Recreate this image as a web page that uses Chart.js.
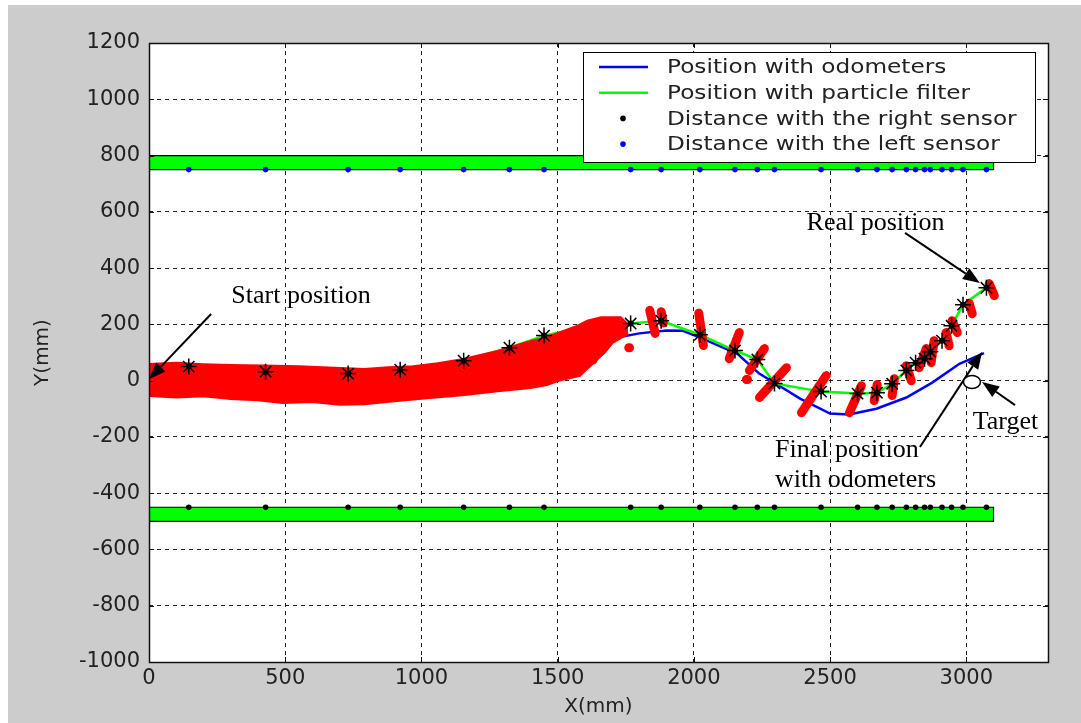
<!DOCTYPE html>
<html>
<head>
<meta charset="utf-8">
<script src="https://cdn.jsdelivr.net/npm/chart.js@4.4.1/dist/chart.umd.min.js"></script>
<style>
  html, body { margin: 0; padding: 0; background: #fff; }
  canvas { display: block; }
</style>
</head>
<body>
<canvas id="chart" width="1081" height="723"></canvas>
<script>
// ── Data (mm) ───────────────────────────────────────────────────────────────

const xTickValues = [0, 500, 1000, 1500, 2000, 2500, 3000];

const sensorX = [146, 428, 731, 922, 1155, 1323, 1450, 1768, 1880, 2022, 2151, 2233, 2296,
    2467, 2601, 2672, 2728, 2780, 2814, 2847, 2868, 2911, 2946, 2988, 3074];
const leftSensorY = [750, 750, 750, 750, 750, 750, 750, 750, 750, 750, 750, 750, 750,
    750, 750, 750, 750, 750, 750, 750, 750, 750, 750, 750, 750];
const rightSensorY = [-450, -450, -450, -450, -450, -450, -450, -450, -450, -450, -450, -450, -450,
    -450, -450, -450, -450, -450, -450, -450, -450, -450, -450, -450, -450];
const estimateY = [50, 32, 25, 39, 71, 117, 160, 203, 213, 163, 107, 75, -10,
    -39, -46, -43, -11, 36, 64, 78, 103, 142, 195, 270, 330];

const filterX = [0, 146, 428, 731, 922, 1155, 1323, 1450, 1600, 1768, 1880, 2022, 2151, 2233,
    2296, 2467, 2601, 2672, 2728, 2780, 2814, 2847, 2868, 2911, 2946, 2988, 3074];
const filterY = [40, 50, 32, 25, 39, 71, 117, 160, 190, 203, 213, 163, 107, 75,
    -10, -39, -46, -43, -11, 36, 64, 78, 103, 142, 195, 270, 330];

const odoX = [0, 300, 600, 900, 1150, 1350, 1500, 1570, 1700, 1800, 1900, 1960, 2030, 2160,
    2240, 2300, 2390, 2500, 2570, 2670, 2780, 2875, 2975, 3065];
const odoY = [0, 2, 5, 15, 40, 75, 100, 110, 150, 168, 178, 177, 150, 95,
    25, -10, -64, -117, -120, -100, -60, -7, 60, 98];

// particle cloud envelope, start to ~1750 mm
const cloudTopX = [0, 100, 200, 300, 420, 550, 680, 790, 880, 970, 1060, 1150, 1280, 1400,
    1460, 1520, 1570, 1610, 1660, 1730, 1758];
const cloudTopY = [56, 60, 55, 52, 50, 48, 42, 38, 44, 48, 58, 73, 102, 137,
    150, 172, 190, 210, 222, 222, 195];
const cloudBottomX = [0, 100, 200, 300, 400, 490, 600, 700, 790, 900, 1030, 1150, 1280, 1400,
    1460, 1510, 1580, 1630, 1670, 1700, 1758];
const cloudBottomY = [-51, -56, -52, -62, -66, -76, -72, -82, -80, -70, -58, -48, -34, -23,
    -12, 5, 20, 66, 102, 137, 170];

// particle clusters later on: [x1, y1, x2, y2]
const particleClusters = [
    [1838, 250, 1858, 168], [1880, 245, 1888, 205], [2018, 240, 2035, 125],
    [2167, 171, 2130, 78], [2259, 114, 2204, 36], [2340, 46, 2241, -60],
    [2193, 4, 2197, 4], [1761, 117, 1764, 117], [1630, 73, 1633, 73],
    [2486, 18, 2395, -114], [2615, -18, 2571, -114], [2673, -14, 2662, -71],
    [2736, 7, 2728, -53], [2780, 53, 2798, 0], [2853, 114, 2827, 46],
    [2882, 142, 2871, 64], [2926, 171, 2937, 124], [2948, 213, 2967, 171],
    [3011, 274, 3022, 238], [3084, 345, 3103, 302],
];

const wallX = [0, 3100];
const topWallY = [750, 800];
const bottomWallY = [-500, -450];

const legendLabels = [
    'Position with odometers',
    'Position with particle filter',
    'Distance with the right sensor',
    'Distance with the left sensor',
];

// annotations in data coordinates
const notes = [
    { text: 'Start position', x: 558, y: 300, align: 'center' },
    { text: 'Real position', x: 2667, y: 560, align: 'center' },
    { text: 'Target', x: 3144, y: -147, align: 'center' },
    { text: 'Final position', x: 2298, y: -246, align: 'left' },
    { text: 'with odometers', x: 2298, y: -353, align: 'left' },
];
const arrows = [
    [228, 237, 0, 5],
    [2775, 525, 3050, 347],
    [3179, -87, 3058, -5],
    [2830, -236, 3058, 102],
];
const target = { x: 3021, y: -5 };

// ── Helpers ──────────────────────────────────────────────────────────────────

const toPts = (xs, ys) => xs.map((x, i) => ({ x, y: ys[i] }));

function clusterPts(list) {
    const pts = [];
    list.forEach(([x1, y1, x2, y2]) => {
        pts.push({ x: x1, y: y1 }, { x: x2, y: y2 }, { x: x2, y: null });
    });
    return pts;
}

function wallOutline(ys) {
    return [
        { x: wallX[0], y: ys[1] }, { x: wallX[1], y: ys[1] },
        { x: wallX[1], y: ys[0] }, { x: wallX[0], y: ys[0] }, { x: wallX[0], y: ys[1] },
    ];
}

const SANS = '"DejaVu Sans", Verdana, sans-serif';
const SERIF = '"Liberation Serif", "Times New Roman", serif';
const TEXT = '#222';

const base = { showLine: true, pointRadius: 0, fill: false, tension: 0 };

// ── Plugins ──────────────────────────────────────────────────────────────────

const framePlugin = {
    id: 'frame',
    beforeDraw(chart) {
        const { ctx, chartArea: a } = chart;
        ctx.save();
        ctx.fillStyle = '#fff';
        ctx.fillRect(0, 0, chart.width, chart.height);
        ctx.fillStyle = '#cccccc';
        ctx.fillRect(8, 5, chart.width - 8, chart.height - 5);
        ctx.fillStyle = '#fff';
        ctx.fillRect(a.left, a.top, a.right - a.left, a.bottom - a.top);
        ctx.restore();
    },
    afterDatasetsDraw(chart) {
        const { ctx, chartArea: a, scales } = chart;
        ctx.save();
        ctx.strokeStyle = '#111';
        ctx.lineWidth = 1;
        ctx.beginPath();
        scales.x.ticks.forEach(t => {
            const px = Math.round(scales.x.getPixelForValue(t.value)) + 0.5;
            ctx.moveTo(px, a.bottom); ctx.lineTo(px, a.bottom - 5);
            ctx.moveTo(px, a.top); ctx.lineTo(px, a.top + 5);
        });
        scales.y.ticks.forEach(t => {
            const py = Math.round(scales.y.getPixelForValue(t.value)) + 0.5;
            ctx.moveTo(a.left, py); ctx.lineTo(a.left + 5, py);
            ctx.moveTo(a.right, py); ctx.lineTo(a.right - 5, py);
        });
        ctx.stroke();
        ctx.lineWidth = 1.5;
        ctx.strokeRect(a.left + 0.5, a.top + 0.5, a.right - a.left, a.bottom - a.top);
        ctx.restore();
    },
};

function drawArrow(ctx, x1, y1, x2, y2) {
    const ang = Math.atan2(y2 - y1, x2 - x1);
    const len = 17, half = 6.5;
    const bx = x2 - len * Math.cos(ang), by = y2 - len * Math.sin(ang);
    ctx.beginPath();
    ctx.moveTo(x1, y1);
    ctx.lineTo(bx, by);
    ctx.stroke();
    ctx.beginPath();
    ctx.moveTo(x2, y2);
    ctx.lineTo(bx + half * Math.sin(ang), by - half * Math.cos(ang));
    ctx.lineTo(bx - half * Math.sin(ang), by + half * Math.cos(ang));
    ctx.closePath();
    ctx.fill();
}

const notesPlugin = {
    id: 'notes',
    afterDatasetsDraw(chart) {
        const { ctx, scales: { x, y } } = chart;
        ctx.save();
        ctx.fillStyle = '#000';
        ctx.strokeStyle = '#000';
        ctx.lineWidth = 2;
        arrows.forEach(([x1, y1, x2, y2]) => {
            drawArrow(ctx, x.getPixelForValue(x1), y.getPixelForValue(y1),
                x.getPixelForValue(x2), y.getPixelForValue(y2));
        });

        ctx.beginPath();
        ctx.ellipse(x.getPixelForValue(target.x), y.getPixelForValue(target.y), 8.5, 6.5, 0, 0, Math.PI * 2);
        ctx.fillStyle = '#fff';
        ctx.fill();
        ctx.lineWidth = 1.5;
        ctx.stroke();

        ctx.fillStyle = '#000';
        ctx.font = `26px ${SERIF}`;
        ctx.textBaseline = 'middle';
        notes.forEach(n => {
            ctx.textAlign = n.align;
            ctx.fillText(n.text, x.getPixelForValue(n.x), y.getPixelForValue(n.y));
        });
        ctx.restore();
    },
};

const legendPlugin = {
    id: 'boxLegend',
    afterDraw(chart) {
        const { ctx, chartArea: a } = chart;
        const left = a.left + 434, top = a.top + 9, w = 452, h = 110;
        const kinds = [
            { line: true, color: '#0000ff' },
            { line: true, color: '#00ff00' },
            { line: false, color: '#000' },
            { line: false, color: '#0000ff' },
        ];
        ctx.save();
        ctx.fillStyle = '#fff';
        ctx.fillRect(left, top, w, h);
        ctx.strokeStyle = '#000';
        ctx.lineWidth = 1;
        ctx.strokeRect(left + 0.5, top + 0.5, w, h);

        ctx.font = `20px ${SANS}`;
        ctx.textBaseline = 'middle';
        legendLabels.forEach((label, i) => {
            const ry = top + 15 + i * 25.7;
            const k = kinds[i];
            if (k.line) {
                ctx.strokeStyle = k.color;
                ctx.lineWidth = 2.5;
                ctx.beginPath();
                ctx.moveTo(left + 16, ry);
                ctx.lineTo(left + 65, ry);
                ctx.stroke();
            } else {
                ctx.fillStyle = k.color;
                ctx.beginPath();
                ctx.arc(left + 40, ry, 2.8, 0, Math.PI * 2);
                ctx.fill();
            }
            ctx.fillStyle = TEXT;
            ctx.save();
            ctx.translate(left + 84, ry + 1);
            ctx.scale(1.16, 1);
            ctx.fillText(label, 0, 0);
            ctx.restore();
        });
        ctx.restore();
    },
};

// ── Chart ────────────────────────────────────────────────────────────────────

const tickFont = { family: SANS, size: 21 };
const titleFont = { family: SANS, size: 20 };

new Chart(document.getElementById('chart'), {
    type: 'line',
    data: {
        datasets: [
            // 0-2: top wall
            { ...base, data: toPts(wallX, [topWallY[1], topWallY[1]]), fill: '+1',
                backgroundColor: '#00ff00', borderWidth: 0, order: 9 },
            { ...base, data: toPts(wallX, [topWallY[0], topWallY[0]]), borderWidth: 0, order: 9 },
            { ...base, data: wallOutline(topWallY), borderColor: '#000', borderWidth: 1.2, order: 8 },
            // 3-5: bottom wall
            { ...base, data: toPts(wallX, [bottomWallY[1], bottomWallY[1]]), fill: '+1',
                backgroundColor: '#00ff00', borderWidth: 0, order: 9 },
            { ...base, data: toPts(wallX, [bottomWallY[0], bottomWallY[0]]), borderWidth: 0, order: 9 },
            { ...base, data: wallOutline(bottomWallY), borderColor: '#000', borderWidth: 1.2, order: 8 },
            // 6-7: sensor readings
            { data: toPts(sensorX, leftSensorY), showLine: false, pointRadius: 2.8,
                pointBackgroundColor: '#0000ff', pointBorderWidth: 0, order: 7 },
            { data: toPts(sensorX, rightSensorY), showLine: false, pointRadius: 2.8,
                pointBackgroundColor: '#000', pointBorderWidth: 0, order: 7 },
            // 8-9: trajectories
            { ...base, data: toPts(odoX, odoY), borderColor: '#0000ff', borderWidth: 2.5, order: 6 },
            { ...base, data: toPts(filterX, filterY), borderColor: '#00ff00', borderWidth: 2.5, order: 5 },
            // 10-11: particle cloud
            { ...base, data: toPts(cloudTopX, cloudTopY), fill: '+1', backgroundColor: '#ff0000',
                borderColor: '#ff0000', borderWidth: 4, order: 4 },
            { ...base, data: toPts(cloudBottomX, cloudBottomY), borderColor: '#ff0000',
                borderWidth: 4, order: 4 },
            // 12: particle clusters
            { ...base, data: clusterPts(particleClusters), borderColor: '#ff0000', borderWidth: 9,
                borderCapStyle: 'round', borderJoinStyle: 'round', spanGaps: false, order: 3 },
            // 13-14: estimated positions
            { data: toPts(sensorX, estimateY), showLine: false, pointRadius: 3,
                pointBackgroundColor: '#000', pointBorderWidth: 0, order: 2 },
            { data: toPts(sensorX, estimateY), showLine: false, pointStyle: 'star', pointRadius: 8,
                pointBorderColor: '#000', pointBorderWidth: 1.5, order: 1 },
        ],
    },
    options: {
        responsive: false,
        animation: false,
        events: [],
        layout: { padding: { left: 0, top: 43, right: 33, bottom: 0 } },
        plugins: {
            legend: { display: false },
            tooltip: { enabled: false },
        },
        scales: {
            x: {
                type: 'linear',
                min: 0,
                max: 3300,
                afterFit: s => { s.height = 61; },
                afterBuildTicks: s => { s.ticks = xTickValues.map(v => ({ value: v })); },
                ticks: { padding: 4, maxRotation: 0, autoSkip: false, color: TEXT, font: tickFont,
                    callback: v => String(v) },
                grid: { color: '#222', lineWidth: 1, drawTicks: false },
                border: { display: false, dash: [4, 4] },
                title: { display: true, text: 'X(mm)', color: TEXT, font: titleFont,
                    padding: { top: 0, bottom: 4 } },
            },
            y: {
                type: 'linear',
                min: -1000,
                max: 1200,
                afterFit: s => { s.width = 149; },
                ticks: { stepSize: 200, padding: 9, color: TEXT, font: tickFont,
                    callback: v => String(v) },
                grid: { color: '#222', lineWidth: 1, drawTicks: false },
                border: { display: false, dash: [4, 4] },
                title: { display: true, text: 'Y(mm)', color: TEXT, font: titleFont,
                    padding: { top: 31, bottom: 0 } },
            },
        },
    },
    plugins: [framePlugin, notesPlugin, legendPlugin],
});
</script>
</body>
</html>
